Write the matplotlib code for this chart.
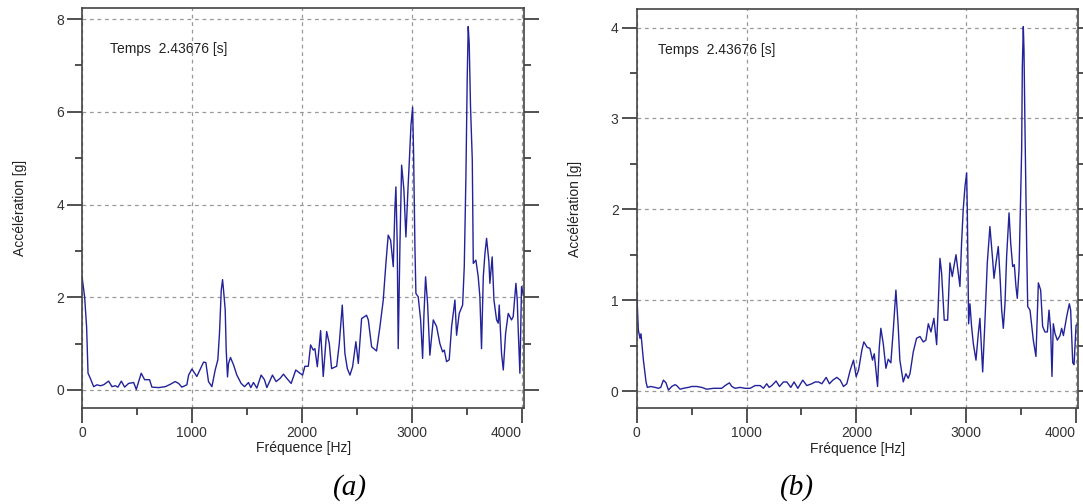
import matplotlib.pyplot as plt
from matplotlib.ticker import MultipleLocator

# spectre (a)
freq_a = [0, 24, 42, 55, 76, 106, 136, 167, 197, 242, 273, 303, 327, 358, 388, 424, 470, 494,
          539, 570, 615, 636, 697, 758, 803, 848, 879, 909, 954, 970, 1000, 1045, 1106, 1127,
          1151, 1182, 1212, 1236, 1251, 1267, 1279, 1288, 1303, 1312, 1324, 1333, 1351, 1379,
          1409, 1448, 1479, 1515, 1536, 1560, 1591, 1630, 1660, 1682, 1733, 1766, 1803, 1833,
          1863, 1903, 1945, 1983, 2007, 2028, 2059, 2080, 2104, 2119, 2141, 2171, 2195, 2226,
          2250, 2271, 2317, 2341, 2368, 2392, 2414, 2438, 2462, 2492, 2514, 2544, 2589, 2605,
          2635, 2680, 2711, 2741, 2765, 2786, 2808, 2832, 2847, 2856, 2868, 2877, 2893, 2908,
          2929, 2947, 2968, 2977, 2993, 3008, 3017, 3029, 3038, 3059, 3081, 3099, 3111, 3126,
          3144, 3165, 3196, 3226, 3256, 3281, 3296, 3317, 3341, 3363, 3393, 3408, 3432, 3463,
          3478, 3493, 3505, 3514, 3523, 3535, 3551, 3560, 3584, 3605, 3620, 3635, 3651, 3666,
          3681, 3702, 3711, 3732, 3748, 3772, 3787, 3796, 3817, 3833, 3854, 3878, 3908, 3923,
          3948, 3960, 3969, 3984, 3999, 4014, 4030]
acc_a = [2.45, 2.01, 1.36, 0.36, 0.25, 0.07, 0.11, 0.09, 0.11, 0.19, 0.07, 0.09, 0.06, 0.19, 0.06,
         0.14, 0.16, 0.01, 0.36, 0.22, 0.22, 0.06, 0.05, 0.07, 0.12, 0.18, 0.14, 0.06, 0.11, 0.32,
         0.45, 0.29, 0.60, 0.59, 0.18, 0.07, 0.43, 0.65, 1.22, 2.15, 2.38, 2.15, 1.73, 0.87, 0.28,
         0.57, 0.70, 0.54, 0.32, 0.14, 0.07, 0.16, 0.05, 0.16, 0.04, 0.32, 0.22, 0.05, 0.32, 0.18,
         0.25, 0.34, 0.25, 0.14, 0.43, 0.36, 0.32, 0.51, 0.51, 0.97, 0.86, 0.89, 0.50, 1.28, 0.29,
         1.26, 1.00, 0.46, 0.51, 1.00, 1.83, 0.79, 0.46, 0.32, 0.50, 1.04, 0.57, 1.54, 1.61, 1.51,
         0.93, 0.84, 1.37, 1.94, 2.73, 3.34, 3.23, 2.66, 3.92, 4.38, 3.16, 0.89, 3.16, 4.85, 4.31,
         3.30, 4.45, 4.88, 5.71, 6.10, 5.10, 3.09, 2.08, 2.01, 1.51, 0.68, 1.61, 2.44, 1.87, 0.75,
         1.51, 1.37, 1.00, 0.82, 0.86, 0.61, 0.65, 1.37, 1.94, 1.18, 1.65, 1.83, 2.66, 4.60, 6.75,
         7.84, 7.47, 6.10, 4.96, 2.73, 2.80, 2.44, 2.01, 0.89, 2.44, 2.94, 3.27, 2.77, 2.30, 2.87,
         1.94, 1.51, 1.44, 1.83, 0.79, 0.43, 1.22, 1.65, 1.51, 1.58, 2.30, 1.94, 1.29, 0.36, 2.23,
         2.08, 2.01]

# spectre (b)
freq_b = [0, 15, 30, 39, 61, 85, 97, 128, 167, 197, 219, 243, 267, 289, 319, 349, 364, 395, 425,
          471, 501, 547, 592, 638, 699, 774, 805, 844, 866, 896, 941, 987, 1033, 1078, 1124, 1154,
          1184, 1206, 1230, 1269, 1300, 1336, 1367, 1403, 1433, 1467, 1512, 1549, 1594, 1625,
          1655, 1686, 1725, 1755, 1786, 1822, 1853, 1883, 1913, 1944, 1974, 1998, 2020, 2050,
          2068, 2099, 2123, 2147, 2163, 2178, 2193, 2208, 2223, 2245, 2269, 2290, 2314, 2336,
          2360, 2381, 2396, 2427, 2451, 2472, 2488, 2518, 2548, 2579, 2609, 2633, 2655, 2679,
          2706, 2731, 2746, 2761, 2776, 2800, 2831, 2852, 2873, 2888, 2907, 2928, 2943, 2958,
          2973, 2989, 3004, 3010, 3022, 3034, 3049, 3065, 3089, 3110, 3125, 3150, 3171, 3192,
          3216, 3241, 3253, 3271, 3292, 3308, 3323, 3338, 3353, 3368, 3390, 3405, 3423, 3438,
          3453, 3465, 3481, 3496, 3505, 3511, 3520, 3526, 3535, 3551, 3560, 3581, 3611, 3635,
          3657, 3678, 3696, 3717, 3739, 3754, 3769, 3781, 3793, 3809, 3830, 3854, 3869, 3885,
          3915, 3939, 3951, 3970, 3982, 4000, 4021]
acc_b = [1.09, 0.67, 0.58, 0.63, 0.34, 0.10, 0.04, 0.05, 0.04, 0.03, 0.04, 0.12, 0.09, 0.01, 0.05,
         0.07, 0.06, 0.02, 0.03, 0.04, 0.05, 0.05, 0.04, 0.02, 0.03, 0.03, 0.06, 0.09, 0.05, 0.03,
         0.04, 0.03, 0.03, 0.06, 0.06, 0.03, 0.08, 0.04, 0.06, 0.11, 0.05, 0.10, 0.10, 0.04, 0.10,
         0.03, 0.12, 0.06, 0.08, 0.10, 0.10, 0.08, 0.15, 0.08, 0.12, 0.15, 0.12, 0.05, 0.08, 0.23,
         0.34, 0.16, 0.23, 0.45, 0.54, 0.48, 0.47, 0.34, 0.41, 0.23, 0.05, 0.47, 0.69, 0.52, 0.25,
         0.35, 0.31, 0.67, 1.11, 0.71, 0.34, 0.10, 0.19, 0.14, 0.19, 0.43, 0.58, 0.60, 0.54, 0.56,
         0.74, 0.65, 0.80, 0.51, 0.96, 1.46, 1.30, 0.78, 0.78, 1.41, 1.26, 1.37, 1.50, 1.30, 1.15,
         1.63, 2.00, 2.25, 2.40, 2.00, 0.74, 0.96, 0.71, 0.52, 0.34, 0.63, 0.80, 0.21, 0.78, 1.41,
         1.81, 1.44, 1.24, 1.41, 1.59, 1.26, 0.89, 0.69, 0.96, 1.48, 1.96, 1.63, 1.37, 1.39, 1.15,
         1.02, 1.33, 2.14, 2.66, 3.57, 4.01, 3.76, 2.91, 1.55, 0.93, 0.89, 0.56, 0.38, 1.19, 1.11,
         0.71, 0.65, 0.65, 0.89, 0.67, 0.16, 0.74, 0.63, 0.56, 0.61, 0.69, 0.61, 0.82, 0.96, 0.89,
         0.31, 0.29, 0.72, 0.74]

xticks = [0, 1000, 2000, 3000, 4000]
temps = 'Temps  2.43676 [s]'
plt.rcParams['font.family'] = ['Liberation Sans', 'DejaVu Sans']

fig = plt.figure(figsize=(10.83, 5.04), dpi=100)
ax1 = fig.add_axes([0.0757, 0.1905, 0.4084, 0.7936])
ax2 = fig.add_axes([0.5879, 0.1899, 0.4078, 0.7916])


def style(ax, x, y, xmax, ylim, ymaj, lettre, lx, tx):
    ax.plot(x, y, color='#22229a', lw=1.0)
    ax.set_xlim(0, xmax)
    ax.set_ylim(*ylim)
    ax.set_xticks(xticks)
    ax.xaxis.set_minor_locator(MultipleLocator(500))
    ax.yaxis.set_major_locator(MultipleLocator(ymaj))
    ax.yaxis.set_minor_locator(MultipleLocator(ymaj / 2))
    ax.grid(True, which='major', color='#999999', linestyle=(0, (3, 3)), lw=0.9)
    ax.tick_params(which='both', direction='out', colors='#333333', labelcolor='#333333',
                   labelsize=10, right=True, top=False, width=1.2)
    ax.tick_params(which='major', length=10.5, pad=2.5)
    ax.tick_params(which='minor', length=5)
    for s in ax.spines.values():
        s.set_color('#444444')
        s.set_linewidth(1.2)
    ax.set_xlabel('Fréquence [Hz]', fontsize=10, color='#222222', labelpad=1)
    ax.set_ylabel('Accélération [g]', fontsize=10, color='#222222', labelpad=21)
    ax.text(tx, 0.897, temps, transform=ax.transAxes, fontsize=10, color='#222222',
            va='center')
    # le dernier libellé (4000) reste dans le cadre
    ax.xaxis.get_major_ticks()[-1].label1.set_horizontalalignment('right')
    fig.text(lx, 0.032, lettre, fontsize=21, style='italic', family='Liberation Serif',
             ha='center', va='center')


style(ax1, freq_a, acc_a, 4024, (-0.39, 8.24), 2, '(a)', 350 / 1083, 0.063)
style(ax2, freq_b, acc_b, 4021, (-0.19, 4.2), 1, '(b)', 797 / 1083, 0.048)

fig.savefig('out.png', dpi=100)
